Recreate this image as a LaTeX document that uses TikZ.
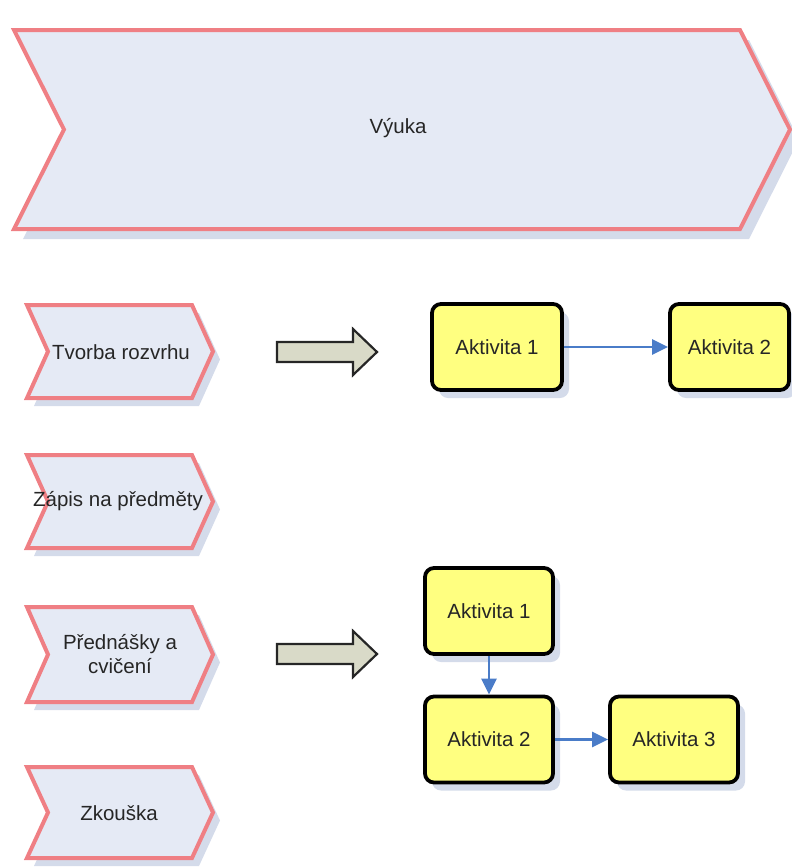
\documentclass[tikz,border=0pt]{standalone}
\usepackage{fontspec}
\setmainfont{Liberation Sans}
\usetikzlibrary{arrows.meta,shadows}

\definecolor{chevfill}{HTML}{E5EAF5}
\definecolor{chevline}{HTML}{EF7F84}
\definecolor{chevshade}{HTML}{D4DBEA}
\definecolor{actfill}{HTML}{FFFF80}
\definecolor{flowblue}{HTML}{4A7CC8}
\definecolor{hollowfill}{HTML}{D9DAC8}
\definecolor{txt}{HTML}{262626}

% chevron: #1 left x, #2 top y, #3 tip x, #4 bottom y, #5 notch depth, #6 shadow offset
\newcommand{\chevron}[6]{%
  \fill[chevshade, shift={(#6,#6+1)}]
    (#1,#2) -- ({#3-#5},#2) -- (#3,{(#2+#4)/2}) -- ({#3-#5},#4) -- (#1,#4)
    -- ({#1+#5},{(#2+#4)/2}) -- cycle;
  \draw[chevbox]
    (#1,#2) -- ({#3-#5},#2) -- (#3,{(#2+#4)/2}) -- ({#3-#5},#4) -- (#1,#4)
    -- ({#1+#5},{(#2+#4)/2}) -- cycle;
}

\begin{document}
\begin{tikzpicture}[x=1pt,y=-1pt,
  chevbox/.style={fill=chevfill, draw=chevline, line width=4pt, line join=miter},
  label/.style={text=txt, font=\fontsize{20.5}{24}\selectfont, inner sep=0pt, align=center},
  activity/.style={rectangle, rounded corners=9pt, fill=actfill, draw=black,
    line width=3.8pt, minimum height=86pt, text=txt,
    font=\fontsize{20.5}{24}\selectfont, inner sep=0pt,
    drop shadow={shadow xshift=7pt, shadow yshift=-8pt, fill=chevshade, opacity=1}},
  flow/.style={draw=flowblue, line width=2.4pt, -{Triangle[length=16pt,width=15pt]}},
  hollow/.style={fill=hollowfill, draw=black!85, line width=2.2pt, line join=miter}]

\useasboundingbox (0,0) rectangle (792,868);

% main process band
\chevron{14}{30}{790}{229}{50}{9}
\node[label] (vyuka) at (398,128) {Výuka};

% sub-process chevrons
\chevron{27}{305}{213}{398}{21}{7}
\node[label] (tvorba) at (121,352) {Tvorba rozvrhu};

\chevron{27}{455}{213}{548}{21}{7}
\node[label] (zapis) at (118,501) {Zápis na předměty};

\chevron{27}{607}{213}{702}{21}{7}
\node[label] (prednasky) at (120,654) {Přednášky a\\cvičení};

\chevron{27}{767}{213}{858}{21}{7}
\node[label] (zkouska) at (119,813) {Zkouška};

% hollow expansion arrows
\draw[hollow] (277,342) -- (353,342) -- (353,329) -- (377,352) -- (353,375)
  -- (353,362) -- (277,362) -- cycle;
\draw[hollow] (277,644) -- (353,644) -- (353,631) -- (377,654) -- (353,677)
  -- (353,664) -- (277,664) -- cycle;

% activities of the timetable step
\node[activity, minimum width=130pt] (a1) at (497,347) {Aktivita 1};
\node[activity, minimum width=119pt] (a2) at (729.5,347) {Aktivita 2};
\draw[flow] (a1) -- (a2);

% activities of the lectures step
\node[activity, minimum width=128pt] (b1) at (489,611) {Aktivita 1};
\node[activity, minimum width=128pt] (b2) at (489,739.5) {Aktivita 2};
\node[activity, minimum width=128pt] (b3) at (674,739.5) {Aktivita 3};
\draw[flow] (b1) -- (b2);
\draw[flow] (b2) -- (b3);

\end{tikzpicture}
\end{document}
